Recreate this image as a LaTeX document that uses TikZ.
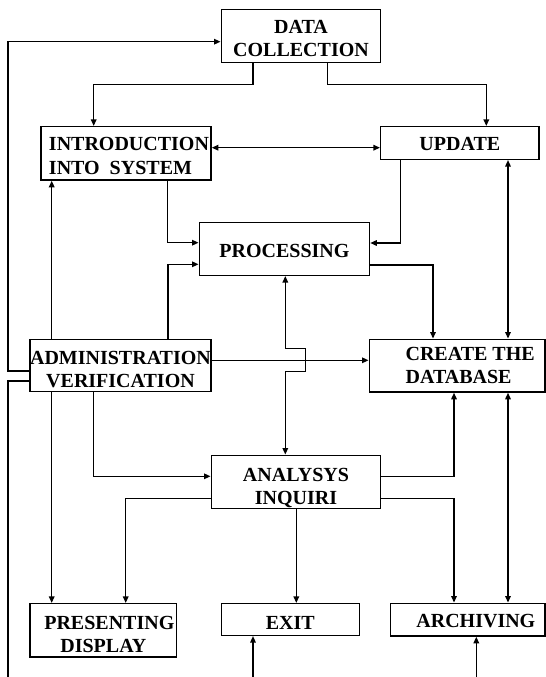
\documentclass[tikz,border=0pt]{standalone}
\usepackage{fontspec}
\setmainfont{Liberation Serif}
\usetikzlibrary{arrows.meta}
\newcommand\dn[1]{\rule{0pt}{#1bp}}
\tikzset{
  box/.style={draw, line width=1.5bp, rectangle, inner sep=0pt, align=center,
    font=\bfseries\fontsize{20bp}{23.3bp}\selectfont},
  ln/.style={line width=1.4bp},
  arr/.style={ln, -{Triangle[length=6.5bp,width=5.5bp]}},
  darr/.style={ln, {Triangle[length=6.5bp,width=5.5bp]}-{Triangle[length=6.5bp,width=5.5bp]}}
}
\begin{document}
\begin{tikzpicture}[x=1bp,y=-1bp]
\useasboundingbox (0,0) rectangle (546,677);
\fill[white] (0,0) rectangle (546,677);
% boxes
\node[box, minimum width=159.4bp, minimum height=53.4bp] (dc) at (301,36) {\dn{18}DATA\\COLLECTION};
\node[box, minimum width=170bp, minimum height=53.3bp, align=left] (intro) at (126,153.35) {\dn{18.4}\hspace*{6bp}INTRODUCTION\\\hspace*{6bp}INTO\ \ SYSTEM};
\node[box, minimum width=158.3bp, minimum height=32.6bp] (upd) at (459.85,143) {\dn{16}UPDATE};
\node[box, minimum width=170.2bp, minimum height=52.6bp] (proc) at (284.4,249) {\dn{17.8}PROCESSING};
\node[box, minimum width=181bp, minimum height=52.4bp] (adm) at (120.5,365.5) {\dn{21.4}ADMINISTRATION\\VERIFICATION};
\node[box, minimum width=175.7bp, minimum height=52.7bp, align=left] (cre) at (457.15,365.65) {\hspace*{26bp}CREATE THE\\\hspace*{26bp}DATABASE};
\node[box, minimum width=169.3bp, minimum height=53.4bp] (ana) at (295.95,482) {\dn{25}ANALYSYS\\INQUIRI};
\node[box, minimum width=146.7bp, minimum height=53.3bp] (pres) at (103.35,630.35) {\dn{21.4}\hspace*{12bp}PRESENTING\\DISPLAY};
\node[box, minimum width=138bp, minimum height=31.6bp] (exit) at (290.3,619.5) {\dn{20.4}EXIT};
\node[box, minimum width=154.3bp, minimum height=32.7bp] (arch) at (467.85,619.65) {\dn{16.8}\hspace*{16bp}ARCHIVING};
% free ends
\coordinate (bl) at (8,690);
\coordinate (bexit) at (253,690);
\coordinate (barch) at (476.3,690);
% connectors
\draw[arr] (adm.west |- 0,371) -| (8,41.7) -- (dc.west |- 0,41.7);
\draw[ln] (adm.west |- 0,381) -| (bl);
\draw[arr] (dc.south -| 253,0) -- (253,84.3) -| (intro.north -| 93.7,0);
\draw[arr] (dc.south -| 327.7,0) -- (327.7,84.3) -| (upd.north -| 486.3,0);
\draw[darr] (intro.east |- 0,147.7) -- (upd.west |- 0,147.7);
\draw[arr] (intro.south -| 167.7,0) |- (proc.west |- 0,242.7);
\draw[arr] (adm.north -| 168,0) |- (proc.west |- 0,264.3);
\draw[arr] (upd.south -| 400.7,0) |- (proc.east |- 0,243);
\draw[arr] (proc.east |- 0,265) -| (cre.north -| 433,0);
\draw[darr] (upd.south -| 508,0) -- (cre.north -| 508,0);
\draw[arr] (adm.north -| 51.7,0) -- (intro.south -| 51.7,0);
\draw[arr] (adm.east |- 0,360.3) -- (cre.west |- 0,360.3);
\draw[darr] (proc.south -| 285.3,0) -- (285.3,348.7) -- (305.3,348.7) -- (305.3,371.7) -- (285.3,371.7) -- (ana.north -| 285.3,0);
\draw[arr] (adm.south -| 93.3,0) |- (ana.west |- 0,476.3);
\draw[arr] (adm.south -| 51.7,0) -- (pres.north -| 51.7,0);
\draw[arr] (ana.west |- 0,498.7) -| (pres.north -| 125.7,0);
\draw[arr] (ana.south -| 296.3,0) -- (exit.north -| 296.3,0);
\draw[arr] (ana.east |- 0,476.3) -| (cre.south -| 454,0);
\draw[arr] (ana.east |- 0,498.7) -| (arch.north -| 454,0);
\draw[darr] (cre.south -| 508,0) -- (arch.north -| 508,0);
\draw[arr] (bexit) -- (exit.south -| 253,0);
\draw[arr] (barch) -- (arch.south -| 476.3,0);
\end{tikzpicture}
\end{document}
